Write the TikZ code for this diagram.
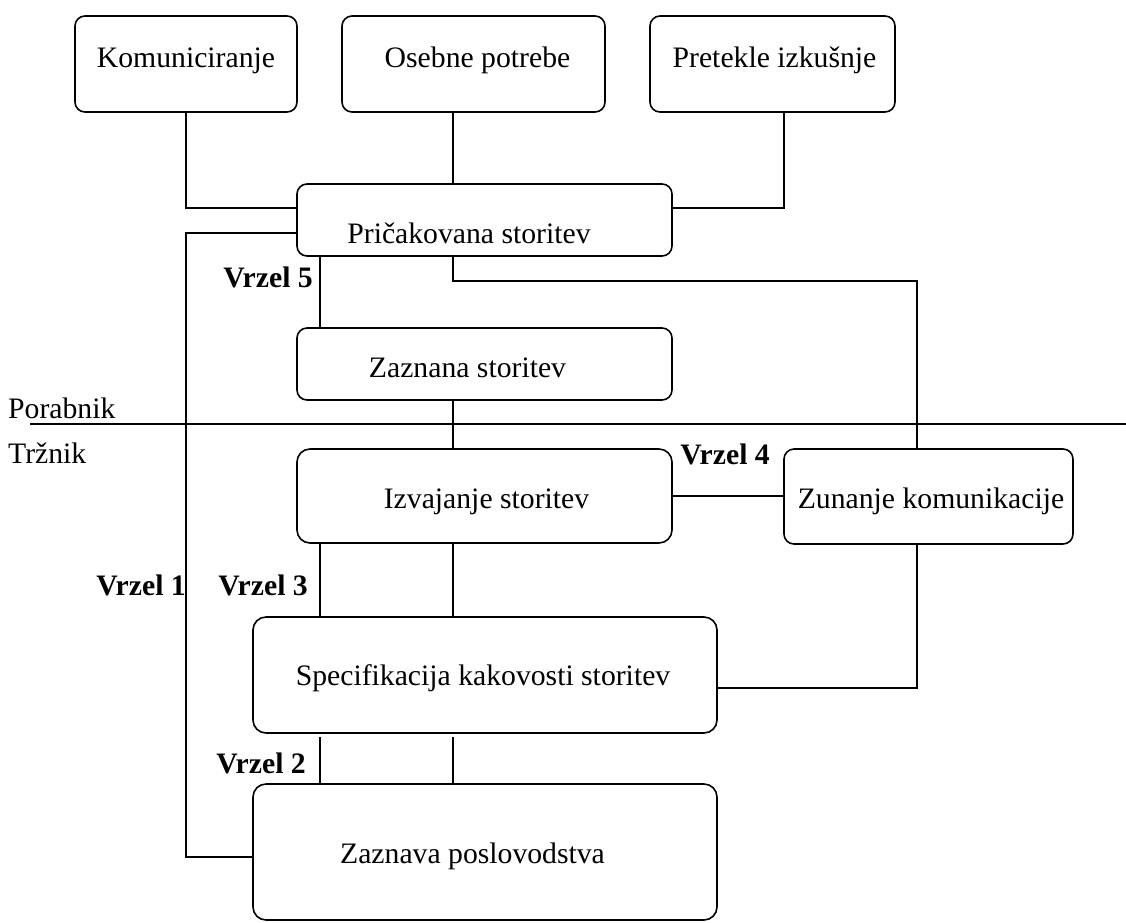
\documentclass[tikz,border=0pt]{standalone}
\usepackage{fontspec}
\setmainfont{Liberation Serif}
\begin{document}
\begin{tikzpicture}[x=1pt,y=-1pt,
  box/.style={draw, line width=1.6pt, rounded corners=10pt, inner sep=0pt},
  bigbox/.style={box, rounded corners=13pt},
  txt/.style={inner sep=0pt, anchor=base, font=\fontsize{29.7}{34}\selectfont},
  gap/.style={txt, anchor=base east, font=\fontsize{29.7}{34}\selectfont\bfseries},
  conn/.style={line width=1.2pt}]
\useasboundingbox (0,0) rectangle (1126,922);
% boxes
\node[box, minimum width=222pt, minimum height=96pt] (b1) at (186,64) {};
\node[box, minimum width=263pt, minimum height=96pt] (b2) at (473.5,64) {};
\node[box, minimum width=245pt, minimum height=96pt] (b3) at (772.5,64) {};
\node[box, minimum width=375pt, minimum height=72pt] (b4) at (484.5,220) {};
\node[box, minimum width=375pt, minimum height=72pt] (b5) at (484.5,364) {};
\node[bigbox, minimum width=375pt, minimum height=94pt] (b6) at (484.5,496) {};
\node[box, minimum width=289pt, minimum height=95pt] (b7) at (928.5,496.5) {};
\node[bigbox, minimum width=464pt, minimum height=116pt] (b8) at (485,675) {};
\node[bigbox, minimum width=464pt, minimum height=136pt] (b9) at (485,852) {};
% texts
\node[txt] (t1) at (186,67) {Komuniciranje};
\node[txt] (t2) at (477.5,67) {Osebne potrebe};
\node[txt] (t3) at (774.5,67) {Pretekle izkušnje};
\node[txt] (t4) at (469,243) {Pričakovana storitev};
\node[txt] (t5) at (467.5,377) {Zaznana storitev};
\node[txt] (t6) at (486.5,508) {Izvajanje storitev};
\node[txt] (t7) at (931,508) {Zunanje komunikacije};
\node[txt] (t8) at (483,685) {Specifikacija kakovosti storitev};
\node[txt] (t9) at (472.5,863) {Zaznava poslovodstva};
\node[gap] (v5) at (313,287) {Vrzel 5};
\node[gap] (v4) at (770,464) {Vrzel 4};
\node[gap] (v1) at (186,595) {Vrzel 1};
\node[gap] (v3) at (308,595) {Vrzel 3};
\node[gap] (v2) at (306,773) {Vrzel 2};
\node[txt, anchor=base west] (por) at (8,418) {Porabnik};
\node[txt, anchor=base west] (trz) at (8,463) {Tržnik};
% helper coordinates
\coordinate (xM) at (453,0);
\coordinate (xR) at (784,0);
\coordinate (xV) at (320,0);
\coordinate (xL) at (186,0);
\coordinate (k1) at (917,281);
\coordinate (hl) at (30,424);
\coordinate (hr) at (1126,424);
% connectors
\draw[conn] (b1.south) |- ([yshift=12pt]b4.west);
\draw[conn] (b2.south -| xM) -- (b4.north -| xM);
\draw[conn] (b3.south -| xR) |- ([yshift=12pt]b4.east);
\draw[conn] ([yshift=-13pt]b4.west) -| ([yshift=-5pt]b9.west -| xL) -- ([yshift=-5pt]b9.west);
\draw[conn] (b4.south -| xV) -- (b5.north -| xV);
\draw[conn] (b4.south -| xM) |- (k1) -- (b7.north -| k1);
\draw[conn] (b5.south -| xM) -- (b6.north -| xM);
\draw[conn] (b6.east) -- (b7.west |- b6.east);
\draw[conn] (b6.south -| xV) -- (b8.north -| xV);
\draw[conn] (b6.south -| xM) -- (b8.north -| xM);
\draw[conn] ([yshift=-13pt]b8.east) -| (b7.south -| k1);
\draw[conn] ([yshift=-3pt]b8.south -| xV) -- (b9.north -| xV);
\draw[conn] ([yshift=-3pt]b8.south -| xM) -- (b9.north -| xM);
\draw[conn] (hl) -- (hr);
\end{tikzpicture}
\end{document}
